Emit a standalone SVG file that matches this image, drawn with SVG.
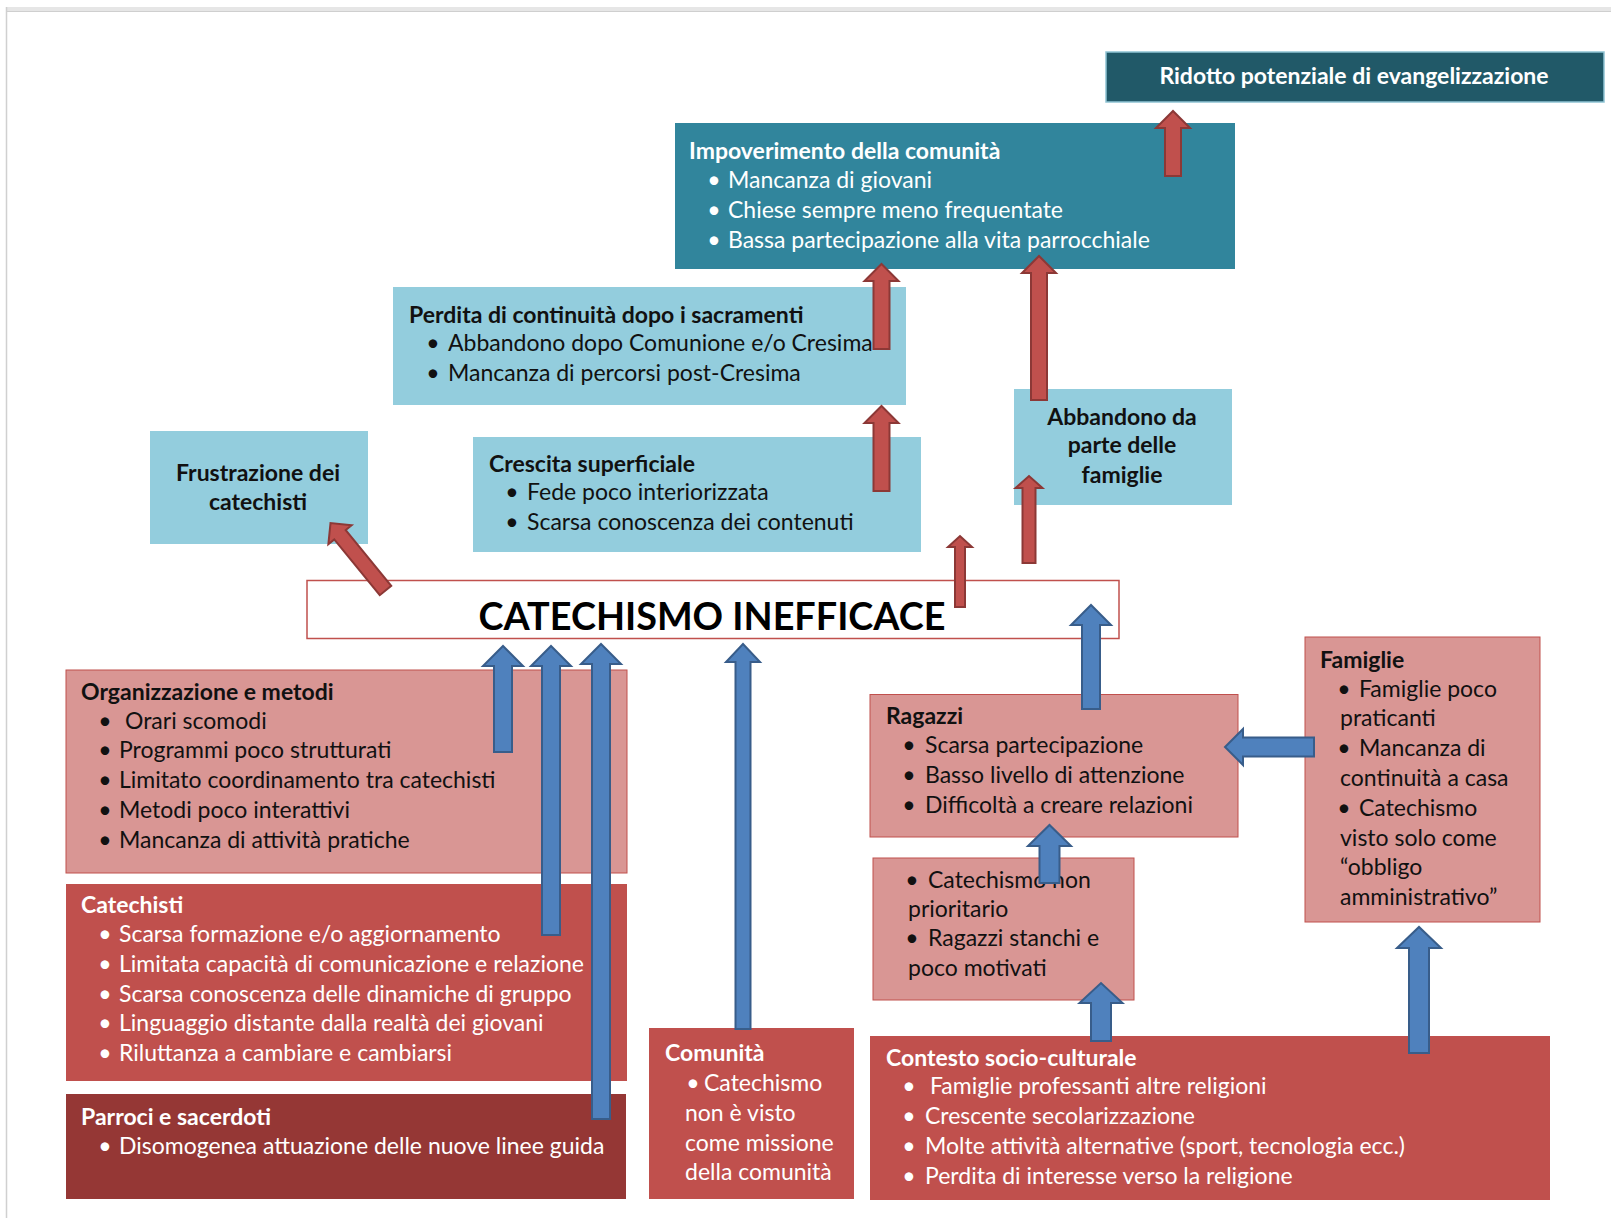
<svg xmlns="http://www.w3.org/2000/svg" width="1611" height="1218" viewBox="0 0 1611 1218">
<style>
text{font-family:Lato,"Liberation Sans",sans-serif;font-size:23px;fill:#111}
.b{font-weight:bold}
.w{fill:#fff}
.c{text-anchor:middle}
.d{text-anchor:middle}
.teal{fill:#31859C}
.dteal{fill:#215968;stroke:#8fc3d3;stroke-width:1.5}
.lb{fill:#93CDDD}
.lr{fill:#D99694;stroke:#C0504D;stroke-width:1}
.mr{fill:#C0504D}
.dr{fill:#953735}
.ra{fill:#C0504D;stroke:#8C3836;stroke-width:2;stroke-linejoin:miter}
.ba{fill:#4F81BD;stroke:#385D8A;stroke-width:2;stroke-linejoin:miter}
</style>
<rect x="0" y="0" width="1611" height="1218" fill="#fff"/>
<rect x="6" y="7" width="1605" height="5" fill="#e6e6e6"/>
<line x1="6" y1="11.5" x2="1611" y2="11.5" stroke="#cfcfcf" stroke-width="1"/>
<line x1="6.5" y1="7" x2="6.5" y2="1218" stroke="#d0d0d0" stroke-width="1.5"/>

<g id="ridotto">
<rect class="dteal" x="1106" y="52" width="498" height="50"/>
<text class="b w c" x="1354" y="84">Ridotto potenziale di evangelizzazione</text>
</g>

<g id="impoverimento">
<rect class="teal" x="675" y="123" width="560" height="146"/>
<text class="b w" x="689" y="159">Impoverimento della comunità</text>
<text class="w d" x="714" y="188">•</text><text class="w" x="728" y="188">Mancanza di giovani</text>
<text class="w d" x="714" y="218">•</text><text class="w" x="728" y="218">Chiese sempre meno frequentate</text>
<text class="w d" x="714" y="248">•</text><text class="w" x="728" y="248">Bassa partecipazione alla vita parrocchiale</text>
</g>

<g id="perdita">
<rect class="lb" x="393" y="287" width="513" height="118"/>
<text class="b" x="409" y="323">Perdita di continuità dopo i sacramenti</text>
<text class="d" x="433" y="351">•</text><text x="448" y="351">Abbandono dopo Comunione e/o Cresima</text>
<text class="d" x="433" y="381">•</text><text x="448" y="381">Mancanza di percorsi post-Cresima</text>
</g>

<g id="frustrazione">
<rect class="lb" x="150" y="431" width="218" height="113"/>
<text class="b c" x="258" y="481">Frustrazione dei</text>
<text class="b c" x="258" y="510">catechisti</text>
</g>

<g id="crescita">
<rect class="lb" x="473" y="437" width="448" height="115"/>
<text class="b" x="489" y="472">Crescita superficiale</text>
<text class="d" x="512" y="500">•</text><text x="527" y="500">Fede poco interiorizzata</text>
<text class="d" x="512" y="530">•</text><text x="527" y="530">Scarsa conoscenza dei contenuti</text>
</g>

<g id="abbandono">
<rect class="lb" x="1014" y="389" width="218" height="116"/>
<text class="b c" x="1122" y="425">Abbandono da</text>
<text class="b c" x="1122" y="453">parte delle</text>
<text class="b c" x="1122" y="483">famiglie</text>
</g>

<g id="catechismo">
<rect x="307" y="580.5" width="812" height="58" fill="#fff" stroke="#C0504D" stroke-width="1.5"/>
<text class="b c" x="712" y="630" style="font-size:38px;fill:#000" textLength="467" lengthAdjust="spacingAndGlyphs">CATECHISMO INEFFICACE</text>
</g>

<g id="organizzazione">
<rect class="lr" x="66" y="670" width="561" height="203"/>
<text class="b" x="81" y="700">Organizzazione e metodi</text>
<text class="d" x="105" y="729">•</text><text x="125" y="729">Orari scomodi</text>
<text class="d" x="105" y="758">•</text><text x="119" y="758">Programmi poco strutturati</text>
<text class="d" x="105" y="788">•</text><text x="119" y="788">Limitato coordinamento tra catechisti</text>
<text class="d" x="105" y="818">•</text><text x="119" y="818">Metodi poco interattivi</text>
<text class="d" x="105" y="848">•</text><text x="119" y="848">Mancanza di attività pratiche</text>
</g>

<g id="catechisti">
<rect class="mr" x="66" y="884" width="561" height="197"/>
<text class="b w" x="81" y="913">Catechisti</text>
<text class="w d" x="105" y="942">•</text><text class="w" x="119" y="942">Scarsa formazione e/o aggiornamento</text>
<text class="w d" x="105" y="972">•</text><text class="w" x="119" y="972">Limitata capacità di comunicazione e relazione</text>
<text class="w d" x="105" y="1002">•</text><text class="w" x="119" y="1002">Scarsa conoscenza delle dinamiche di gruppo</text>
<text class="w d" x="105" y="1031">•</text><text class="w" x="119" y="1031">Linguaggio distante dalla realtà dei giovani</text>
<text class="w d" x="105" y="1061">•</text><text class="w" x="119" y="1061">Riluttanza a cambiare e cambiarsi</text>
</g>

<g id="parroci">
<rect class="dr" x="66" y="1094" width="560" height="105"/>
<text class="b w" x="81" y="1125">Parroci e sacerdoti</text>
<text class="w d" x="105" y="1154">•</text><text class="w" x="119" y="1154">Disomogenea attuazione delle nuove linee guida</text>
</g>

<g id="comunita">
<rect class="mr" x="649" y="1028" width="205" height="171"/>
<text class="b w" x="665" y="1061">Comunità</text>
<text class="w d" x="693" y="1091">•</text><text class="w" x="704" y="1091">Catechismo</text>
<text class="w" x="685" y="1121">non è visto</text>
<text class="w" x="685" y="1151">come missione</text>
<text class="w" x="685" y="1180">della comunità</text>
</g>

<g id="contesto">
<rect class="mr" x="870" y="1036" width="680" height="164"/>
<text class="b w" x="886" y="1066">Contesto socio-culturale</text>
<text class="w d" x="909" y="1094">•</text><text class="w" x="930" y="1094">Famiglie professanti altre religioni</text>
<text class="w d" x="909" y="1124">•</text><text class="w" x="925" y="1124">Crescente secolarizzazione</text>
<text class="w d" x="909" y="1154">•</text><text class="w" x="925" y="1154">Molte attività alternative (sport, tecnologia ecc.)</text>
<text class="w d" x="909" y="1184">•</text><text class="w" x="925" y="1184">Perdita di interesse verso la religione</text>
</g>

<g id="ragazzi">
<rect class="lr" x="870" y="694.5" width="368" height="142.5"/>
<text class="b" x="886" y="724">Ragazzi</text>
<text class="d" x="909" y="753">•</text><text x="925" y="753">Scarsa partecipazione</text>
<text class="d" x="909" y="783">•</text><text x="925" y="783">Basso livello di attenzione</text>
<text class="d" x="909" y="813">•</text><text x="925" y="813">Difficoltà a creare relazioni</text>
</g>

<g id="prioritario">
<rect class="lr" x="873" y="858" width="261" height="142"/>
<text class="d" x="912" y="888">•</text><text x="928" y="888">Catechismo non</text>
<text x="908" y="917">prioritario</text>
<text class="d" x="912" y="946">•</text><text x="928" y="946">Ragazzi stanchi e</text>
<text x="908" y="976">poco motivati</text>
</g>

<g id="famiglie">
<rect class="lr" x="1305" y="637" width="235" height="285"/>
<text class="b" x="1320" y="668">Famiglie</text>
<text class="d" x="1344" y="697">•</text><text x="1359" y="697">Famiglie poco</text>
<text x="1340" y="726">praticanti</text>
<text class="d" x="1344" y="756">•</text><text x="1359" y="756">Mancanza di</text>
<text x="1340" y="786">continuità a casa</text>
<text class="d" x="1344" y="816">•</text><text x="1359" y="816">Catechismo</text>
<text x="1340" y="846">visto solo come</text>
<text x="1340" y="875">“obbligo</text>
<text x="1340" y="905">amministrativo”</text>
</g>

<g id="connectors">
<path class="ra" d="M1165,176 L1165,128 L1156,128 L1173,111 L1190,128 L1181,128 L1181,176 Z"/>
<path class="ra" d="M873.5,349 L873.5,281 L864.5,281 L881.5,264 L898.5,281 L889.5,281 L889.5,349 Z"/>
<path class="ra" d="M1031,400 L1031,273 L1022,273 L1039,256 L1056,273 L1047,273 L1047,400 Z"/>
<path class="ra" d="M873.5,491 L873.5,423 L864.5,423 L881.5,406 L898.5,423 L889.5,423 L889.5,491 Z"/>
<path class="ra" d="M1022.5,563 L1022.5,488 L1015.5,488 L1029,476 L1042.5,488 L1035.5,488 L1035.5,563 Z"/>
<path class="ra" d="M955,607 L955,547 L948,547 L960,536 L972,547 L965,547 L965,607 Z"/>
<path class="ra" transform="translate(385.5,590.5) rotate(-39.2)" d="M-7.4,0 L-7.4,-72 L-15,-72 L0,-87 L15,-72 L7.4,-72 L7.4,0 Z"/>

<path class="ba" d="M494,752 L494,666 L483,666 L503,646 L523,666 L512,666 L512,752 Z"/>
<path class="ba" d="M542,935 L542,666 L531,666 L551,646 L571,666 L560,666 L560,935 Z"/>
<path class="ba" d="M592,1119 L592,664 L581,664 L601,644 L621,664 L610,664 L610,1119 Z"/>
<path class="ba" d="M735.5,1029 L735.5,662 L726,662 L743,644 L760,662 L750.5,662 L750.5,1029 Z"/>
<path class="ba" d="M1082,709 L1082,625 L1071,625 L1091,605 L1111,625 L1100,625 L1100,709 Z"/>
<path class="ba" d="M1314,737.5 L1243,737.5 L1243,729 L1225,747 L1243,765 L1243,756.5 L1314,756.5 Z"/>
<path class="ba" d="M1039.5,883 L1039.5,846 L1028,846 L1049.5,825 L1071,846 L1059.5,846 L1059.5,883 Z"/>
<path class="ba" d="M1091,1041 L1091,1003 L1079.5,1003 L1101,983 L1122.5,1003 L1111,1003 L1111,1041 Z"/>
<path class="ba" d="M1409,1053 L1409,948 L1397,948 L1419,927 L1441,948 L1429,948 L1429,1053 Z"/>
</g>
</svg>
